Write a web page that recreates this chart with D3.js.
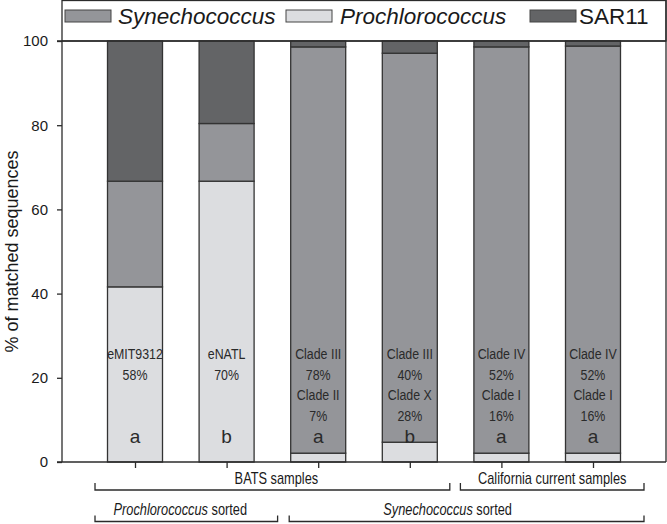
<!DOCTYPE html>
<html>
<head>
<meta charset="utf-8">
<script src="https://cdn.jsdelivr.net/npm/d3@7"></script>
<style>
  html, body { margin: 0; padding: 0; background: #fff; }
  svg { display: block; }
</style>
</head>
<body>
<div id="chart"></div>
<script>
// ---------------- data ----------------
const samples = ["Pro-sorted BATS 1", "Pro-sorted BATS 2", "Syn-sorted BATS 1", "Syn-sorted BATS 2", "Syn-sorted CCS 1", "Syn-sorted CCS 2"];
const prochlorococcus = [41.6, 66.7, 2.1, 4.7, 2.1, 2.1];
const synechococcus   = [25.1, 13.7, 96.5, 92.4, 96.5, 96.7];
const sar11           = [33.3, 19.6, 1.4, 2.9, 1.4, 1.2];
const seriesNames = ["Synechococcus", "Prochlorococcus", "SAR11"];
const yTicks = [0, 20, 40, 60, 80, 100];
const cladeLabels = [
  ["eMIT9312", "58%"],
  ["eNATL", "70%"],
  ["Clade III", "78%", "Clade II", "7%"],
  ["Clade III", "40%", "Clade X", "28%"],
  ["Clade IV", "52%", "Clade I", "16%"],
  ["Clade IV", "52%", "Clade I", "16%"]
];
const groupLetters = ["a", "b", "a", "b", "a", "a"];
const sampleGroups = [
  {label: "BATS samples", first: 0, last: 3},
  {label: "California current samples", first: 4, last: 5}
];
const sortGroups = [
  {label: "Prochlorococcus", suffix: " sorted", first: 0, last: 1},
  {label: "Synechococcus", suffix: " sorted", first: 2, last: 5}
];

// ---------------- layout ----------------
const W = 667, H = 524;
const plot = {left: 62, right: 666, top: 41, bottom: 462};
const colors = {Synechococcus: "#949599", Prochlorococcus: "#dcdde0", SAR11: "#636466"};
const barW = 55;
const ink = "#2b2b2b";
const sans = "'Liberation Sans', Arial, sans-serif";
const condense = 0.8;

const svg = d3.select("#chart").append("svg").attr("width", W).attr("height", H);

const x = d3.scalePoint().domain(samples).range([plot.left, plot.right]).padding(0.797);
const y = d3.scaleLinear().domain([0, 100]).range([plot.bottom, plot.top]);

// condensed text helper (real text, horizontally condensed)
function narrowText(g, tx, ty, size) {
  return g.append("text")
    .attr("transform", `translate(${tx},${ty}) scale(${condense},1)`)
    .attr("text-anchor", "middle").attr("font-family", sans).attr("font-size", size)
    .attr("fill", "#2a2a2a");
}

// stacking order bottom->top: Prochlorococcus, Synechococcus, SAR11
const rows = samples.map((s, i) => ({sample: s, Prochlorococcus: prochlorococcus[i], Synechococcus: synechococcus[i], SAR11: sar11[i]}));
const stack = d3.stack().keys(["Prochlorococcus", "Synechococcus", "SAR11"])(rows);

// legend box
svg.append("rect")
  .attr("x", plot.left).attr("y", 0.5)
  .attr("width", plot.right - plot.left).attr("height", plot.top - 0.5)
  .attr("fill", "#fff").attr("stroke", ink).attr("stroke-width", 1.3);

const legendItems = [
  {name: "Synechococcus", sx: 65, tx: 118, italic: true},
  {name: "Prochlorococcus", sx: 286, tx: 340, italic: true},
  {name: "SAR11", sx: 530, tx: 579, italic: false}
];
const lg = svg.append("g");
legendItems.forEach(it => {
  lg.append("rect").attr("x", it.sx).attr("y", 10).attr("width", 46).attr("height", 12)
    .attr("fill", colors[it.name]).attr("stroke", "#444").attr("stroke-width", 1);
  lg.append("text").attr("x", it.tx).attr("y", 23.5)
    .attr("font-family", sans).attr("font-size", 22.5)
    .attr("font-style", it.italic ? "italic" : "normal")
    .attr("fill", "#1a1a1a").text(it.name);
});

// bars
const layers = svg.append("g").selectAll("g").data(stack).join("g")
  .attr("fill", d => colors[d.key]);
layers.selectAll("rect").data(d => d).join("rect")
  .attr("x", d => x(d.data.sample) - barW / 2)
  .attr("y", d => y(d[1]))
  .attr("width", barW)
  .attr("height", d => y(d[0]) - y(d[1]))
  .attr("stroke", "#333").attr("stroke-width", 1.3);

// axes frame
const yAxis = d3.axisLeft(y).tickValues(yTicks).tickSize(5).tickPadding(9).tickFormat(d3.format("d"));
const ya = svg.append("g").attr("transform", `translate(${plot.left},0)`).call(yAxis);
ya.select(".domain").attr("stroke", ink).attr("stroke-width", 1.3).attr("d", `M0,${plot.top}V${plot.bottom}`);
ya.selectAll(".tick line").attr("stroke", ink).attr("stroke-width", 1.3);
ya.selectAll(".tick text").attr("font-family", sans).attr("font-size", 15).attr("fill", "#1a1a1a");

const xAxis = d3.axisBottom(x).tickSize(6).tickFormat("");
const xa = svg.append("g").attr("transform", `translate(0,${plot.bottom})`).call(xAxis);
xa.select(".domain").attr("stroke", ink).attr("stroke-width", 1.3).attr("d", `M${plot.left - 5},0H${plot.right}`);
xa.selectAll(".tick line").attr("stroke", ink).attr("stroke-width", 1.3);

// top and right frame lines
svg.append("line").attr("x1", plot.left - 5).attr("x2", plot.right).attr("y1", plot.top).attr("y2", plot.top)
  .attr("stroke", ink).attr("stroke-width", 1.5);
svg.append("line").attr("x1", plot.right).attr("x2", plot.right).attr("y1", 0).attr("y2", plot.bottom)
  .attr("stroke", ink).attr("stroke-width", 1.3);

// y title
svg.append("text")
  .attr("transform", `translate(18,${(plot.top + plot.bottom) / 2}) rotate(-90)`)
  .attr("text-anchor", "middle")
  .attr("font-family", sans).attr("font-size", 18).attr("fill", "#1a1a1a")
  .text("% of matched sequences");

// in-bar labels
const lab = svg.append("g");
cladeLabels.forEach((lines, i) => {
  lines.forEach((t, j) => {
    narrowText(lab, x(samples[i]), 359 + j * 20.5, 15.5).text(t);
  });
  lab.append("text").attr("x", x(samples[i])).attr("y", 443)
    .attr("text-anchor", "middle").attr("font-family", sans).attr("font-size", 19)
    .attr("fill", "#2a2a2a").text(groupLetters[i]);
});

// brackets
function bracket(g, x1, x2, yLine, rise) {
  g.append("path").attr("d", `M${x1},${yLine - rise}V${yLine}H${x2}V${yLine - rise}`)
    .attr("fill", "none").attr("stroke", ink).attr("stroke-width", 1.3);
}
const br = svg.append("g");
const row1Off = [[-40, 40, 4], [-41, 51, 0]];
sampleGroups.forEach((g, k) => {
  const x1 = x(samples[g.first]) + row1Off[k][0];
  const x2 = x(samples[g.last]) + row1Off[k][1];
  bracket(br, x1, x2, 490, 7);
  narrowText(br, (x1 + x2) / 2 + row1Off[k][2], 483.5, 16).attr("fill", "#1a1a1a").text(g.label);
});
const row2Off = [[-40, 51, -6], [-29, 51, -19]];
sortGroups.forEach((g, k) => {
  const x1 = x(samples[g.first]) + row2Off[k][0];
  const x2 = x(samples[g.last]) + row2Off[k][1];
  bracket(br, x1, x2, 521.5, 6);
  const t = narrowText(br, (x1 + x2) / 2 + row2Off[k][2], 515, 16).attr("fill", "#1a1a1a");
  t.append("tspan").attr("font-style", "italic").text(g.label);
  t.append("tspan").text(g.suffix);
});
</script>
</body>
</html>
